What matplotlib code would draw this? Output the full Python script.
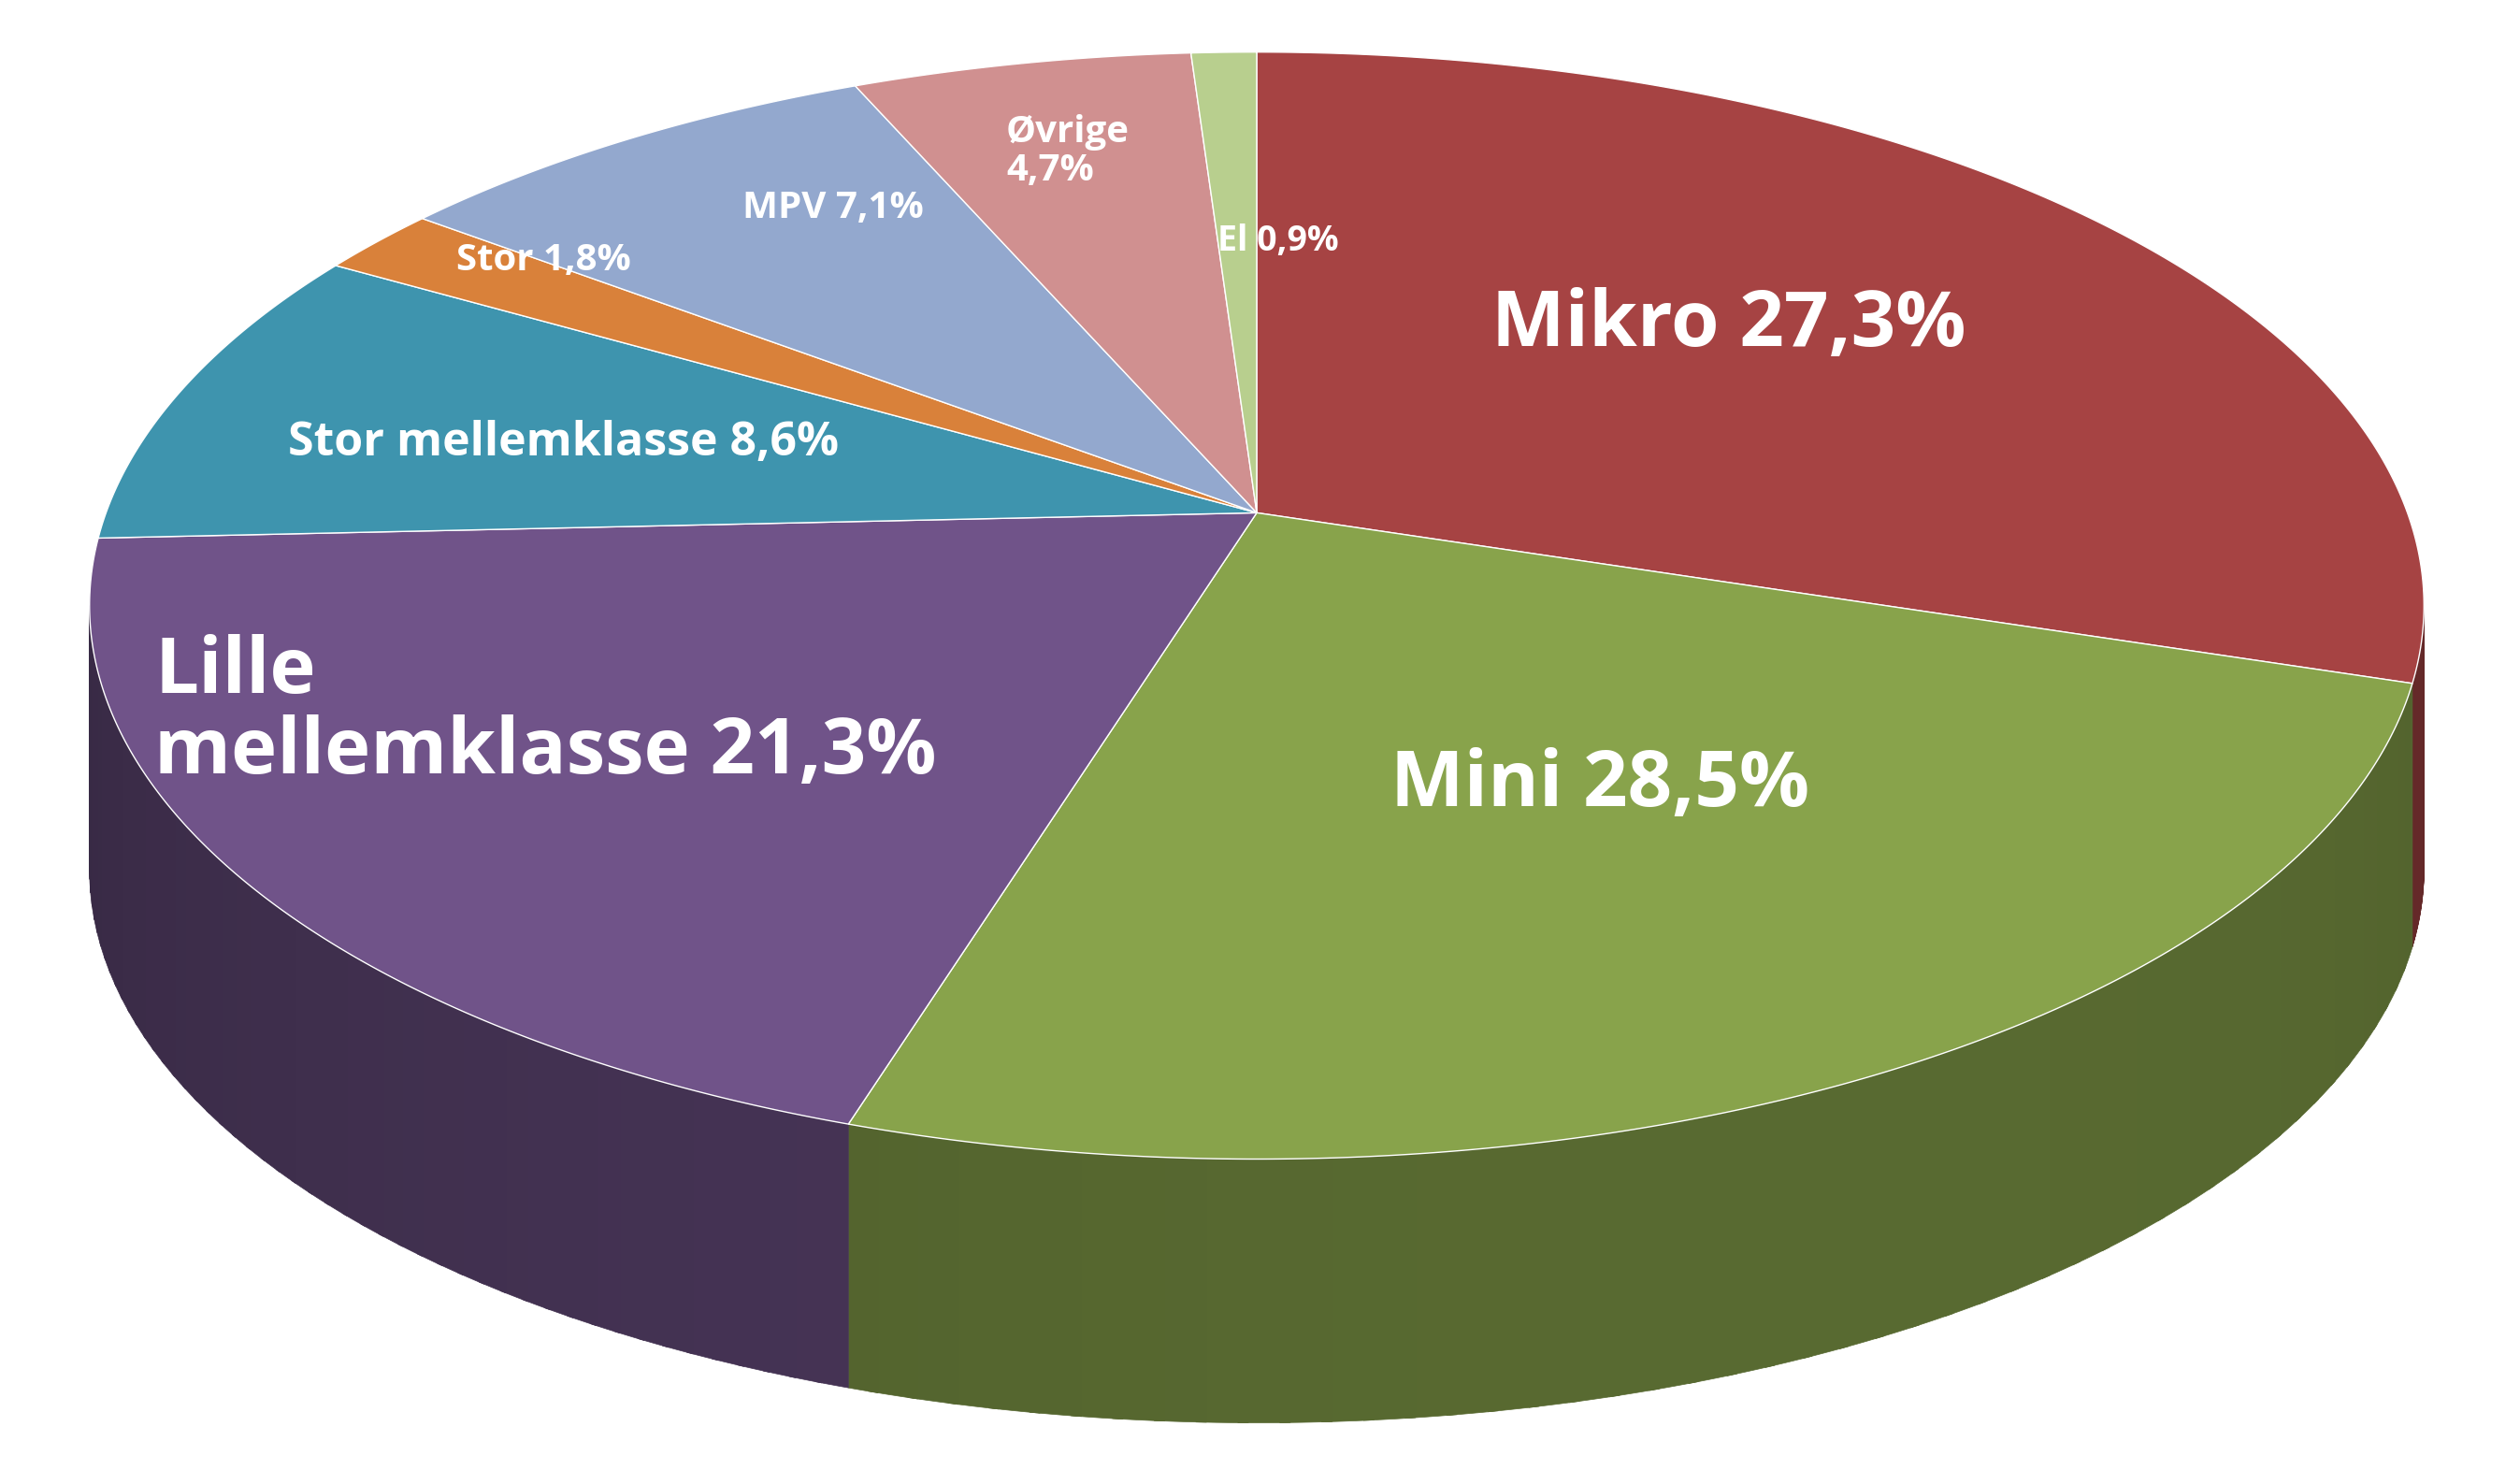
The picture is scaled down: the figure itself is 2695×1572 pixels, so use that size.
import numpy as np
import matplotlib.pyplot as plt
from matplotlib.patches import Polygon
import matplotlib.colors as mc

categories = ["Mikro", "Mini", "Lille\nmellemklasse", "Stor mellemklasse", "Stor", "MPV", "Øvrige", "El"]
values = [27.3, 28.5, 21.3, 8.6, 1.8, 7.1, 4.7, 0.9]
colors = ["#A64343", "#88A34B", "#705389", "#3E94AE", "#D9813A", "#93A8CE", "#D09090", "#B8CF8E"]

# label placement (reference pixel coords, 1548 wide) and size
label_pos = [(1062, 200), (983, 483), (95, 438), (346, 272), (334, 160), (512, 128), (618, 93), (785, 148)]
label_size = [60, 60, 60, 36, 29, 29, 29, 27]
label_ha = ["center", "center", "left", "center", "center", "center", "left", "center"]
label_sep = [" ", " ", " ", " ", " ", " ", "\n", " "]

cx, cy, rx, ry = 772, 372, 717, 340
vx, vy = 772, 315
depth = 162

fig = plt.figure(figsize=(26.95, 15.72), dpi=100)
ax = fig.add_axes([0, 0, 1, 1])
ax.set_xlim(0, 1548)
ax.set_ylim(903, 0)
ax.axis("off")

def pt(th):
    return cx + rx * np.cos(th), cy - ry * np.sin(th)

total = sum(values)
start = np.pi / 2
bounds = []
for v in values:
    end = start - 2 * np.pi * v / total
    bounds.append((start, end))
    start = end

# side walls (front half: angles between -pi and 0)
for (a0, a1), c in zip(bounds, colors):
    # normalise into (-2pi, pi/2]
    lo, hi = a1, a0
    for shift in (0, 2 * np.pi):
        s_hi = min(hi + shift, 0)
        s_lo = max(lo + shift, -np.pi)
        if s_hi > s_lo:
            th = np.linspace(s_hi, s_lo, 200)
            xs, ys = pt(th)
            n = len(th)
            # gradient by strips
            for i in range(0, n - 1, 4):
                j = min(i + 5, n - 1)
                f = 0.55 + 0.2 * np.cos(th[i] + np.pi / 3) * 0.5
                col = np.array(mc.to_rgb(c)) * f
                poly = list(zip(xs[i:j + 1], ys[i:j + 1])) + list(zip(xs[i:j + 1][::-1], ys[i:j + 1][::-1] + depth))
                ax.add_patch(Polygon(poly, closed=True, fc=col, ec=col, lw=0.5))

# top surface
for (a0, a1), c in zip(bounds, colors):
    th = np.linspace(a0, a1, 300)
    xs, ys = pt(th)
    poly = [(vx, vy)] + list(zip(xs, ys))
    ax.add_patch(Polygon(poly, closed=True, fc=c, ec="white", lw=1.0))

for cat, v, (x, y), s, ha, sep in zip(categories, values, label_pos, label_size, label_ha, label_sep):
    txt = cat + sep + f"{v:.1f}".replace(".", ",") + "%"
    ax.text(x, y, txt, color="white", fontsize=s, fontweight="bold", family="Open Sans",
            ha=ha, va="center", linespacing=1.05)

fig.savefig("out.png", dpi=100)
